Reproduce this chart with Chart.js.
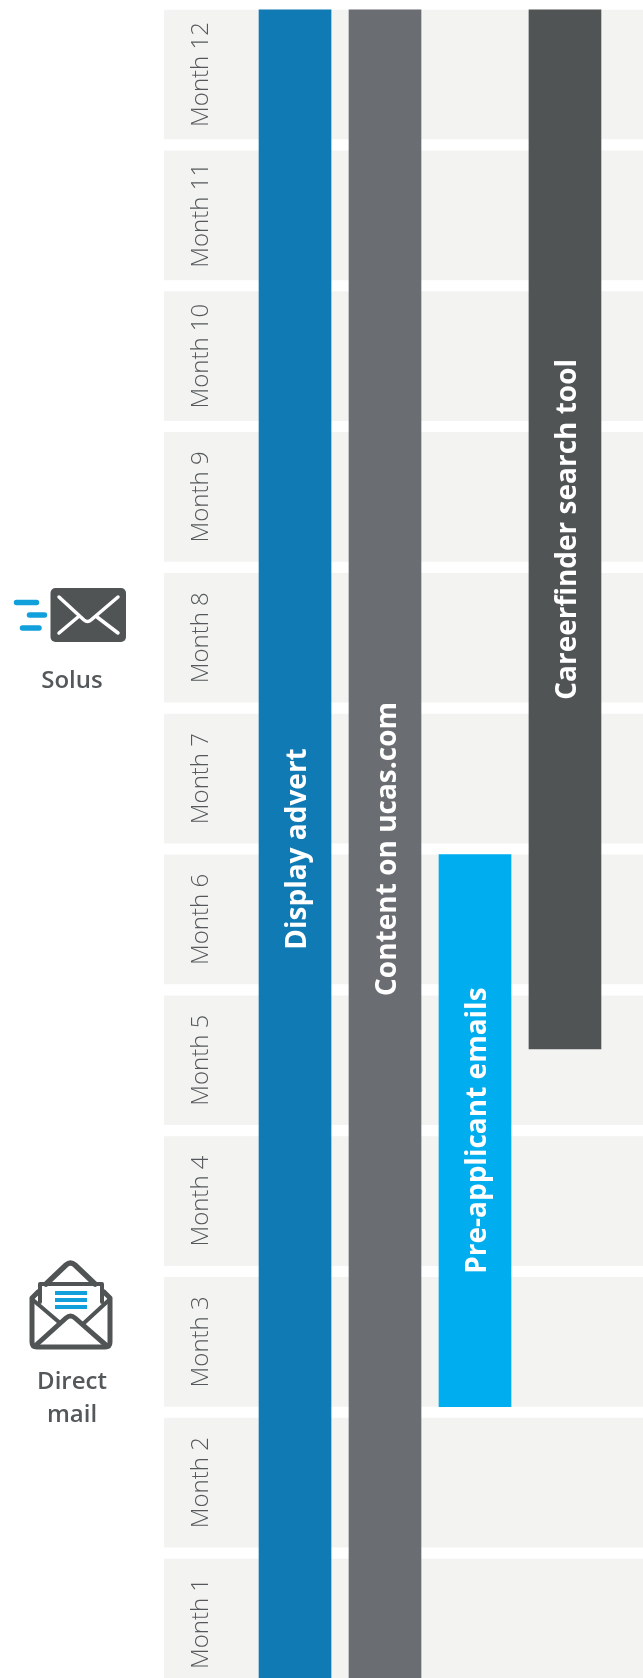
<!DOCTYPE html>
<html>
<head>
<meta charset="utf-8">
<title>Campaign timeline</title>
<script src="https://cdn.jsdelivr.net/npm/chart.js@4/dist/chart.umd.min.js"></script>
<style>
  html, body { margin: 0; padding: 0; background: #fff; }
  #wrap { position: relative; width: 643px; height: 1678px; overflow: hidden; }
  #timeline { position: absolute; left: 0; top: 0; }
  .icon { position: absolute; left: 0; top: 0; }
  .side { position: absolute; left: 0; width: 144px; text-align: center; font: 600 24px/33px "Open Sans", sans-serif; color: #54585a; }
</style>
</head>
<body>
<div id="wrap">
  <canvas id="timeline" width="643" height="1678"></canvas>

  <svg class="icon" width="150" height="1678" fill="none" stroke-linecap="round" stroke-linejoin="round">
    <!-- solus -->
    <rect x="50.5" y="588" width="75.5" height="54" rx="5" fill="#505455"/>
    <path d="M59 597 L84 620 Q87.500 623 91 620 L118 597 M59 633 L78 617 M118 633 L97 617" stroke="#fff" stroke-width="3.500"/>
    <path d="M16.500 602.500 H36.500 M29.500 615 H44.500 M22.500 628 H39" stroke="#12a0dc" stroke-width="5.500"/>
    <!-- direct mail -->
    <path d="M46 1284 L66 1265 Q70.500 1261 75 1265 L95 1284" stroke="#505455" stroke-width="5.500"/>
    <path d="M40 1302 V1284 H102 V1302" stroke="#505455" stroke-width="4"/>
    <path d="M38 1292 L32 1298 V1342 Q32 1347 37 1347 H105 Q110 1347 110 1342 V1298 L104 1292" stroke="#505455" stroke-width="5"/>
    <path d="M33 1300 L60 1323 M109 1300 L84 1323" stroke="#505455" stroke-width="4"/>
    <path d="M35 1346 L66 1318 Q70.500 1314 75 1318 L107 1346" stroke="#505455" stroke-width="5"/>
    <path d="M55 1293 H87 M55 1300 H87 M55 1307 H87" stroke="#12a0dc" stroke-width="4" stroke-linecap="butt"/>
  </svg>
  <div class="side" style="top:662px">Solus</div>
  <div class="side" style="top:1363px">Direct<br>mail</div>
</div>

<script>
const months = ['Month 1', 'Month 2', 'Month 3', 'Month 4', 'Month 5', 'Month 6',
                'Month 7', 'Month 8', 'Month 9', 'Month 10', 'Month 11', 'Month 12'];
const monthValues = [1, 2, 3, 4, 5, 6, 7, 8, 9, 10, 11, 12];

// activities run across the months, start and end in month units
const tasks = ['Display advert', 'Content on ucas.com', 'Pre-applicant emails', 'Careerfinder search tool'];
const taskSlots = [0, 1, 2, 3];
const taskStart = [0.54, 0.54, 2.54, 5.08];
const taskEnd = [12.46, 12.46, 6.46, 12.46];
const taskColors = ['#107ab4', '#6a6d72', '#00aeef', '#505455'];

const slotMin = -1.456;
const slotMax = 3.867;
const monthMin = 0.613;
const monthMax = 12.529;

// writes each activity name up the middle of its bar
const barLabels = {
  id: 'barLabels',
  afterDatasetsDraw(chart) {
    const ctx = chart.ctx;
    const bars = chart.getDatasetMeta(0).data;
    ctx.save();
    ctx.fillStyle = '#fff';
    ctx.font = '700 28px "Open Sans", sans-serif';
    ctx.textAlign = 'center';
    ctx.textBaseline = 'middle';
    bars.forEach((bar, i) => {
      ctx.save();
      ctx.translate(bar.x + 3, (bar.y + bar.base) / 2);
      ctx.rotate(-Math.PI / 2);
      ctx.fillText(tasks[i], 0, 0);
      ctx.restore();
    });
    ctx.restore();
  }
};

new Chart(document.getElementById('timeline'), {
  type: 'bar',
  data: {
    datasets: [
      {
        data: taskSlots.map((s, i) => ({ x: s, y: [taskStart[i], taskEnd[i]] })),
        backgroundColor: taskColors,
        barThickness: 72,
        grouped: false,
        order: 1
      },
      {
        // pale month bands behind the bars
        indexAxis: 'y',
        data: monthValues.map(m => ({ y: m, x: [slotMin, slotMax] })),
        backgroundColor: '#f3f3f2',
        barThickness: 129,
        grouped: false,
        order: 2
      }
    ]
  },
  options: {
    responsive: false,
    animation: false,
    layout: { autoPadding: false, padding: { left: 164 } },
    plugins: { legend: { display: false }, tooltip: { enabled: false } },
    scales: {
      // both axes are bar index axes here, so switch off the default offset
      x: { type: 'linear', offset: false, min: slotMin, max: slotMax, display: false },
      y: {
        type: 'linear',
        offset: false,
        min: monthMin,
        max: monthMax,
        afterBuildTicks: axis => { axis.ticks = monthValues.map(v => ({ value: v })); },
        // labels sit inside the bands, so the axis takes no room of its own
        afterFit: axis => {
          axis.width = 0;
          axis.paddingTop = axis.paddingBottom = axis.paddingLeft = axis.paddingRight = 0;
        },
        grid: { display: false, drawTicks: false },
        border: { display: false },
        ticks: {
          z: 1,
          mirror: true,
          crossAlign: 'center',
          minRotation: 90,
          maxRotation: 90,
          autoSkip: false,
          padding: -15,
          color: '#54585a',
          font: { family: '"Open Sans", sans-serif', size: 24, weight: '300' },
          callback: (v, i) => months[i]
        }
      }
    }
  },
  plugins: [barLabels]
});
</script>
</body>
</html>
